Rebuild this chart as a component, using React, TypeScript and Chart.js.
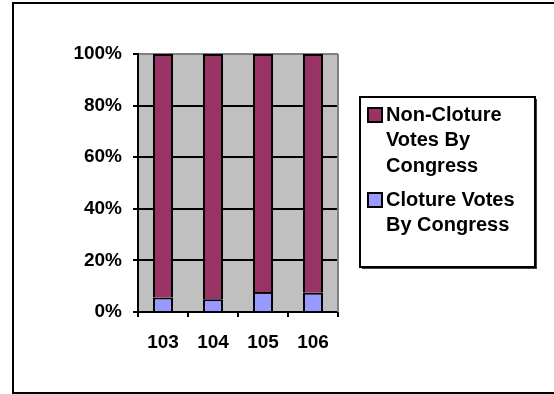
import { useEffect, useRef } from "react";
import { Chart, registerables } from "chart.js";

Chart.register(...registerables);

// Share of Senate roll-call votes per Congress (percent of total)
const congresses = ["103", "104", "105", "106"];
const clotureShare = [5.6, 4.9, 7.8, 7.5];
const nonClotureShare = [94.4, 95.1, 92.2, 92.5];
const yTickValues = [0, 20, 40, 60, 80, 100];

const nonClotureLabel = ["Non-Cloture", "Votes By", "Congress"];
const clotureLabel = ["Cloture Votes", "By Congress"];

const NON_CLOTURE_COLOR = "#993366";
const CLOTURE_COLOR = "#9999FF";
const PLOT_BG = "#C0C0C0";
const FONT = "'Liberation Sans', Arial, Helvetica, sans-serif";

const W = 554;
const H = 394;

const framePlugin = {
  id: "frameAndPlot",
  beforeDraw(chart: any) {
    const { ctx, chartArea } = chart;
    ctx.save();
    ctx.fillStyle = "#FFFFFF";
    ctx.fillRect(0, 0, W, H);
    // outer chart border (right side runs off the canvas)
    ctx.strokeStyle = "#000";
    ctx.lineWidth = 2;
    ctx.strokeRect(13, 3, W + 10, 390);
    // plot area fill
    ctx.fillStyle = PLOT_BG;
    ctx.fillRect(
      chartArea.left,
      chartArea.top,
      chartArea.right - chartArea.left,
      chartArea.bottom - chartArea.top
    );
    ctx.restore();
  },
  beforeDatasetsDraw(chart: any) {
    const { ctx, chartArea } = chart;
    ctx.save();
    ctx.strokeStyle = "#808080";
    ctx.lineWidth = 2;
    ctx.beginPath();
    ctx.moveTo(chartArea.right, chartArea.top);
    ctx.lineTo(chartArea.right, chartArea.bottom);
    ctx.stroke();
    ctx.restore();
  },
};

const legendPlugin = {
  id: "boxedLegend",
  afterDraw(chart: any) {
    const { ctx } = chart;
    const sets = chart.data.datasets;
    ctx.save();
    // shadow
    ctx.fillStyle = "#404040";
    ctx.fillRect(536, 99, 1, 170);
    ctx.fillRect(362, 268, 175, 1);
    // box
    ctx.fillStyle = "#FFFFFF";
    ctx.fillRect(360, 97, 175, 170);
    ctx.strokeStyle = "#000";
    ctx.lineWidth = 2;
    ctx.strokeRect(360, 97, 175, 170);

    const entries = [
      { color: sets[1].backgroundColor, lines: nonClotureLabel, y: 115 },
      { color: sets[0].backgroundColor, lines: clotureLabel, y: 200 },
    ];
    ctx.font = `bold 20px ${FONT}`;
    ctx.textBaseline = "middle";
    ctx.textAlign = "left";
    for (const e of entries) {
      ctx.fillStyle = e.color;
      ctx.fillRect(368, e.y - 7, 14, 14);
      ctx.lineWidth = 2;
      ctx.strokeStyle = "#000";
      ctx.strokeRect(368, e.y - 7, 14, 14);
      ctx.fillStyle = "#000";
      e.lines.forEach((line: string, i: number) => {
        ctx.fillText(line, 386, e.y + i * 25.5);
      });
    }
    ctx.restore();
  },
};

export default function App() {
  const canvasRef = useRef<HTMLCanvasElement | null>(null);

  useEffect(() => {
    if (!canvasRef.current) return;
    const chart = new Chart(canvasRef.current, {
      type: "bar",
      data: {
        labels: congresses,
        datasets: [
          {
            label: clotureLabel.join(" "),
            data: clotureShare,
            backgroundColor: CLOTURE_COLOR,
            borderColor: "#000",
            borderWidth: 2,
          },
          {
            label: nonClotureLabel.join(" "),
            data: nonClotureShare,
            backgroundColor: NON_CLOTURE_COLOR,
            borderColor: "#000",
            borderWidth: 2,
          },
        ],
      },
      options: {
        responsive: false,
        animation: false,
        events: [],
        layout: { padding: { left: 0, top: 54, right: 216, bottom: 42 } },
        datasets: {
          bar: { categoryPercentage: 1, barPercentage: 0.4, inflateAmount: 0 },
        },
        plugins: {
          legend: { display: false },
          tooltip: { enabled: false },
        },
        scales: {
          x: {
            stacked: true,
            offset: true,
            afterFit(scale: any) {
              scale.height = 40;
            },
            grid: {
              offset: true,
              drawOnChartArea: false,
              drawTicks: true,
              tickLength: 5,
              color: "#000",
              lineWidth: 2,
            },
            border: { color: "#000", width: 2 },
            ticks: {
              color: "#000",
              padding: 14,
              font: { family: FONT, size: 19, weight: "bold" },
            },
          },
          y: {
            stacked: true,
            min: 0,
            max: 100,
            afterFit(scale: any) {
              scale.width = 138;
            },
            afterBuildTicks(scale: any) {
              scale.ticks = yTickValues.map((v) => ({ value: v }));
            },
            grid: {
              color: (c: any) => (c.tick && c.tick.value === 100 ? "#808080" : "#000"),
              tickColor: "#000",
              lineWidth: 2,
              tickLength: 5,
            },
            border: { color: "#000", width: 2 },
            ticks: {
              color: "#000",
              padding: 11,
              font: { family: FONT, size: 19, weight: "bold" },
              callback: (v: any) => `${v}%`,
            },
          },
        },
      },
      plugins: [framePlugin, legendPlugin],
    });
    return () => chart.destroy();
  }, []);

  return (
    <div style={{ position: "fixed", left: 0, top: 0, width: W, height: H }}>
      <canvas ref={canvasRef} width={W} height={H} style={{ display: "block" }} />
    </div>
  );
}
